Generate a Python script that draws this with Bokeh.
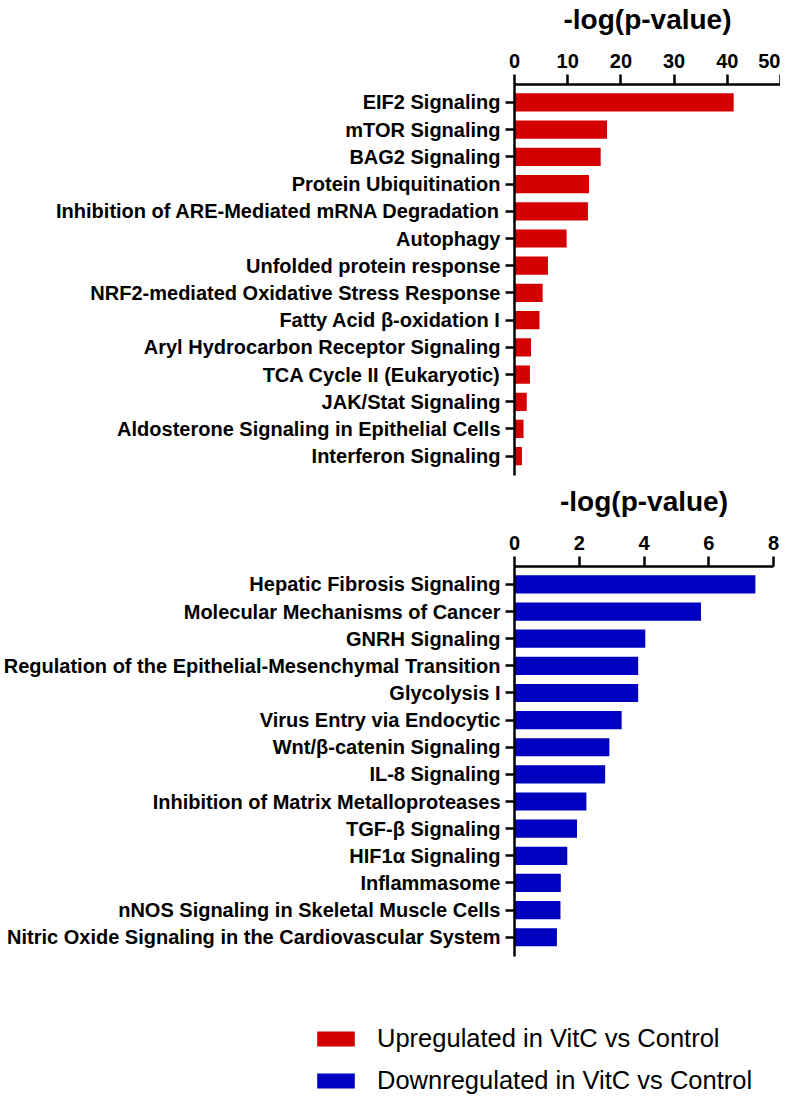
from bokeh.plotting import figure
from bokeh.models import Range1d, FixedTicker, Legend, LegendItem, ColumnDataSource
from bokeh.layouts import column
from bokeh.embed import file_html
from bokeh.resources import INLINE

# ---------------- data ----------------
up_pathways = [
    "EIF2 Signaling",
    "mTOR Signaling",
    "BAG2 Signaling",
    "Protein Ubiquitination",
    "Inhibition of ARE-Mediated mRNA Degradation",
    "Autophagy",
    "Unfolded protein response",
    "NRF2-mediated Oxidative Stress Response",
    "Fatty Acid \u03b2-oxidation I",
    "Aryl Hydrocarbon Receptor Signaling",
    "TCA Cycle II (Eukaryotic)",
    "JAK/Stat Signaling",
    "Aldosterone Signaling in Epithelial Cells",
    "Interferon Signaling",
]
up_values = [41.2, 17.4, 16.2, 14.0, 13.8, 9.8, 6.3, 5.3, 4.7, 3.1, 2.9, 2.3, 1.7, 1.4]

down_pathways = [
    "Hepatic Fibrosis Signaling",
    "Molecular Mechanisms of Cancer",
    "GNRH Signaling",
    "Regulation of the Epithelial-Mesenchymal Transition",
    "Glycolysis I",
    "Virus Entry via Endocytic",
    "Wnt/\u03b2-catenin Signaling",
    "IL-8 Signaling",
    "Inhibition of Matrix Metalloproteases",
    "TGF-\u03b2 Signaling",
    "HIF1\u03b1 Signaling",
    "Inflammasome",
    "nNOS Signaling in Skeletal Muscle Cells",
    "Nitric Oxide Signaling in the Cardiovascular System",
]
down_values = [7.44, 5.76, 4.04, 3.82, 3.82, 3.31, 2.93, 2.80, 2.22, 1.93, 1.63, 1.43, 1.42, 1.31]

up_ticks = [0, 10, 20, 30, 40, 50]
down_ticks = [0, 2, 4, 6, 8]
x_title = "-log(p-value)"
legend_labels = ["Upregulated in VitC vs Control", "Downregulated in VitC vs Control"]
up_color = "#D40000"
down_color = "#0000C0"

FONT = "Liberation Sans"
W = 780


def panel(names, vals, ticks, color, frame_w, frame_h, border_right, border_bottom):
    n = len(names)
    pos = list(range(n))
    src = ColumnDataSource(dict(y=pos, v=vals, name=names))
    p = figure(frame_width=frame_w, frame_height=frame_h,
               x_range=Range1d(ticks[0], ticks[-1]),
               y_range=Range1d(n - 1 + 0.71, -0.66),
               x_axis_location="above",
               output_backend="svg", toolbar_location=None,
               min_border_left=506, min_border_right=border_right,
               min_border_top=78, min_border_bottom=border_bottom)
    p.hbar(y="y", right="v", left=0, height=0.67, source=src,
           fill_color=color, line_color=None)
    p.outline_line_color = None
    p.grid.visible = False

    xa = p.xaxis[0]
    xa.ticker = FixedTicker(ticks=ticks)
    xa.axis_label = x_title
    xa.axis_label_text_font = FONT
    xa.axis_label_text_font_style = "bold"
    xa.axis_label_text_font_size = "28px"
    xa.axis_label_text_color = "black"
    xa.axis_label_standoff = 16
    xa.major_label_text_font = FONT
    xa.major_label_text_font_style = "bold"
    xa.major_label_text_font_size = "20px"
    xa.major_label_text_color = "black"
    xa.major_label_standoff = 7
    xa.axis_line_width = 2.5
    xa.axis_line_color = "black"
    xa.major_tick_line_width = 2.5
    xa.major_tick_line_color = "black"
    xa.major_tick_out = 10
    xa.major_tick_in = 0
    xa.minor_tick_line_color = None

    ya = p.yaxis[0]
    ya.ticker = FixedTicker(ticks=pos)
    ya.major_label_overrides = {i: nm for i, nm in zip(pos, names)}
    ya.major_label_text_font = FONT
    ya.major_label_text_font_style = "bold"
    ya.major_label_text_font_size = "20px"
    ya.major_label_text_color = "black"
    ya.major_label_standoff = 5
    ya.axis_line_width = 2.5
    ya.axis_line_color = "black"
    ya.major_tick_line_width = 2.5
    ya.major_tick_line_color = "black"
    ya.major_tick_out = 9
    ya.major_tick_in = 0
    ya.minor_tick_line_color = None
    return p


p1 = panel(up_pathways, up_values, up_ticks, up_color, 266, 391, 8, 7)
p2 = panel(down_pathways, down_values, down_ticks, down_color, 259, 390, 15, 5)

# legend panel, not frame-aligned with the panels above
p3 = figure(width=W, height=136, x_range=Range1d(0, 1), y_range=Range1d(0, 1),
            output_backend="svg", toolbar_location=None, frame_align=False,
            min_border_left=309, min_border_right=0,
            min_border_top=0, min_border_bottom=0)
p3.axis.visible = False
p3.grid.visible = False
p3.outline_line_color = None
# zero-width renderers outside the visible range; they only provide legend swatches
r_up = p3.hbar(y=[5], right=[0], left=0, height=0.5, fill_color=up_color, line_color=None)
r_dn = p3.hbar(y=[5], right=[0], left=0, height=0.5, fill_color=down_color, line_color=None)
leg = Legend(items=[LegendItem(label=legend_labels[0], renderers=[r_up]),
                    LegendItem(label=legend_labels[1], renderers=[r_dn])],
             location=(3, 2), orientation="vertical",
             glyph_width=47, glyph_height=19, label_standoff=18,
             label_text_font=FONT, label_text_font_size="25.5px", label_text_color="black",
             spacing=13, padding=0, margin=0,
             border_line_color=None, background_fill_alpha=0)
p3.add_layout(leg, "center")

layout = column(p1, p2, p3, spacing=0)
open("out.html", "w").write(file_html(layout, INLINE))
